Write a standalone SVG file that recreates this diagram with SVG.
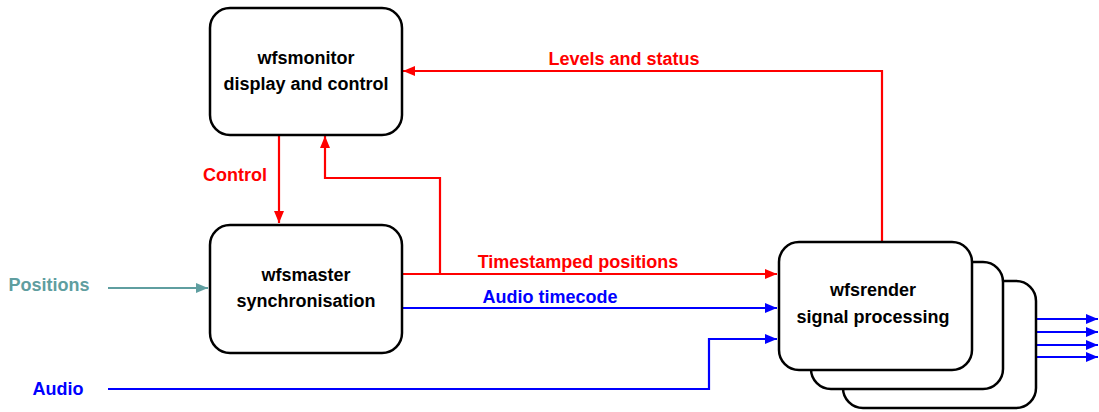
<svg xmlns="http://www.w3.org/2000/svg" width="1099" height="412" viewBox="0 0 1099 412">
<style>
.node{fill:#fff;stroke:#000;stroke-width:2.5}
.t{font-family:"Liberation Sans",Arial,sans-serif;font-weight:bold;font-size:18px;text-anchor:middle}
.k{fill:#000}
.r{fill:#f00}
.b{fill:#00f}
.g{fill:#5F9EA0}
.cr{fill:none;stroke:#f00;stroke-width:2.2}
.cb{fill:none;stroke:#00f;stroke-width:2.2}
.cg{fill:none;stroke:#5F9EA0;stroke-width:2.2}
</style>
<defs>
<marker id="ar" viewBox="0 0 12 10" refX="12" refY="5" markerWidth="12" markerHeight="10" markerUnits="userSpaceOnUse" orient="auto"><path d="M0,0 L12,5 L0,10 z" fill="#f00"/></marker>
<marker id="ab" viewBox="0 0 12 10" refX="12" refY="5" markerWidth="12" markerHeight="10" markerUnits="userSpaceOnUse" orient="auto"><path d="M0,0 L12,5 L0,10 z" fill="#00f"/></marker>
<marker id="ag" viewBox="0 0 12 10" refX="12" refY="5" markerWidth="12" markerHeight="10" markerUnits="userSpaceOnUse" orient="auto"><path d="M0,0 L12,5 L0,10 z" fill="#5F9EA0"/></marker>
</defs>
<rect width="1099" height="412" fill="#fff"/>
<g id="connectors">
<path class="cr" d="M882,241 V71 H403" marker-end="url(#ar)"/>
<path class="cr" d="M279,136 V223" marker-end="url(#ar)"/>
<path class="cr" d="M440,274 V178 H325 V136" marker-end="url(#ar)"/>
<path class="cr" d="M403,274 H777" marker-end="url(#ar)"/>
<path class="cb" d="M403,308 H777" marker-end="url(#ab)"/>
<path class="cb" d="M108,389 H709 V339 H777" marker-end="url(#ab)"/>
<path class="cg" d="M108,288 H208" marker-end="url(#ag)"/>
<path class="cb" d="M1037,319 H1098" marker-end="url(#ab)"/>
<path class="cb" d="M1037,332 H1098" marker-end="url(#ab)"/>
<path class="cb" d="M1037,345 H1098" marker-end="url(#ab)"/>
<path class="cb" d="M1037,357 H1098" marker-end="url(#ab)"/>
<text class="t r" x="624" y="65">Levels and status</text>
<text class="t r" x="235" y="181">Control</text>
<text class="t r" x="578" y="268">Timestamped positions</text>
<text class="t b" x="550" y="303">Audio timecode</text>
<text class="t g" x="49" y="291">Positions</text>
<text class="t b" x="58" y="395">Audio</text>
</g>
<g id="wfsmonitor">
<rect class="node" x="210" y="8" width="192" height="127" rx="20"/>
<text class="t k" x="306" y="64">wfsmonitor</text>
<text class="t k" x="306" y="90">display and control</text>
</g>
<g id="wfsmaster">
<rect class="node" x="210" y="225" width="192" height="128" rx="20"/>
<text class="t k" x="306" y="281">wfsmaster</text>
<text class="t k" x="306" y="307">synchronisation</text>
</g>
<g id="wfsrender">
<rect class="node" x="843" y="281" width="193" height="127" rx="20"/>
<rect class="node" x="811" y="262" width="192" height="127" rx="20"/>
<rect class="node" x="779" y="242" width="193" height="128" rx="20"/>
<text class="t k" x="873" y="296">wfsrender</text>
<text class="t k" x="873" y="323">signal processing</text>
</g>
</svg>
